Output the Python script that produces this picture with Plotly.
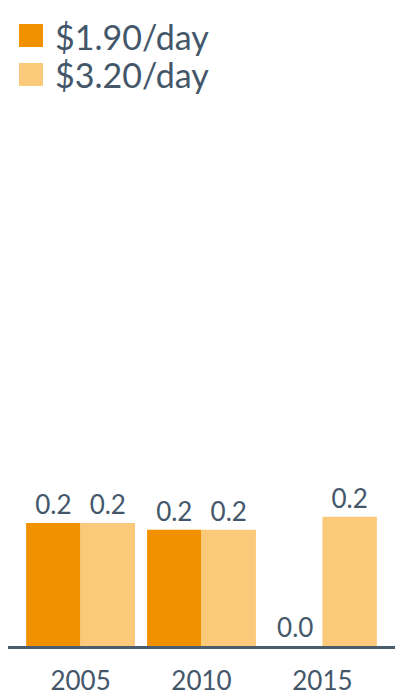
import plotly.graph_objects as go

# data
years = ["2005", "2010", "2015"]
series_names = ["$1.90/day", "$3.20/day"]
poverty_190 = [0.2, 0.189, 0.0]
poverty_320 = [0.2, 0.189, 0.21]
colors = ["#F29100", "#FBC97A"]

TEXT = "#44576A"
FONT = "Lato"
W, H = 400, 700
M_L, M_R, M_T, M_B = 8, 5, 154, 54


def py(px):
    # pixel row (from top of page) -> paper y
    return 1 + (M_T - px) / (H - M_T - M_B)


def px_x(px):
    return (px - M_L) / (W - M_L - M_R)


fig = go.Figure()
for name, vals, col in zip(series_names, [poverty_190, poverty_320], colors):
    fig.add_trace(go.Bar(
        x=years, y=vals, name=name, marker=dict(color=col, line=dict(width=0)),
        text=[f"{v:.1f}" for v in vals], textposition="outside", cliponaxis=False,
        textfont=dict(family=FONT, size=26, color=TEXT),
        showlegend=False,
    ))

# legend drawn by hand so the swatches can be large
for i, (name, col) in enumerate(zip(series_names, colors)):
    top = 24 + i * 39
    fig.add_shape(type="rect", xref="paper", yref="paper",
                  x0=px_x(19), x1=px_x(43), y0=py(top), y1=py(top + 23),
                  fillcolor=col, line=dict(width=0))
    fig.add_annotation(xref="paper", yref="paper", x=px_x(53), y=py(top + 12),
                       xanchor="left", yanchor="middle", text=name, showarrow=False,
                       font=dict(family=FONT, size=34, color=TEXT))

fig.update_layout(
    width=W, height=H,
    margin=dict(l=M_L, r=M_R, t=M_T, b=M_B),
    barmode="group", bargap=0.1, bargroupgap=0,
    plot_bgcolor="white", paper_bgcolor="white",
    font=dict(family=FONT, color=TEXT),
    xaxis=dict(range=[-0.6, 2.6], showline=True, linecolor="#4A5D6E", linewidth=3,
               ticks="", ticklabelstandoff=10, tickfont=dict(size=26, color=TEXT),
               showgrid=False),
    yaxis=dict(range=[0, 0.8], visible=False, showgrid=False, zeroline=False),
)

# the page body has a default 8px margin; drop it so the chart sits at 0,0
fig.write_html("out.html", config={"displayModeBar": False},
               post_script="document.body.style.margin='0';")
